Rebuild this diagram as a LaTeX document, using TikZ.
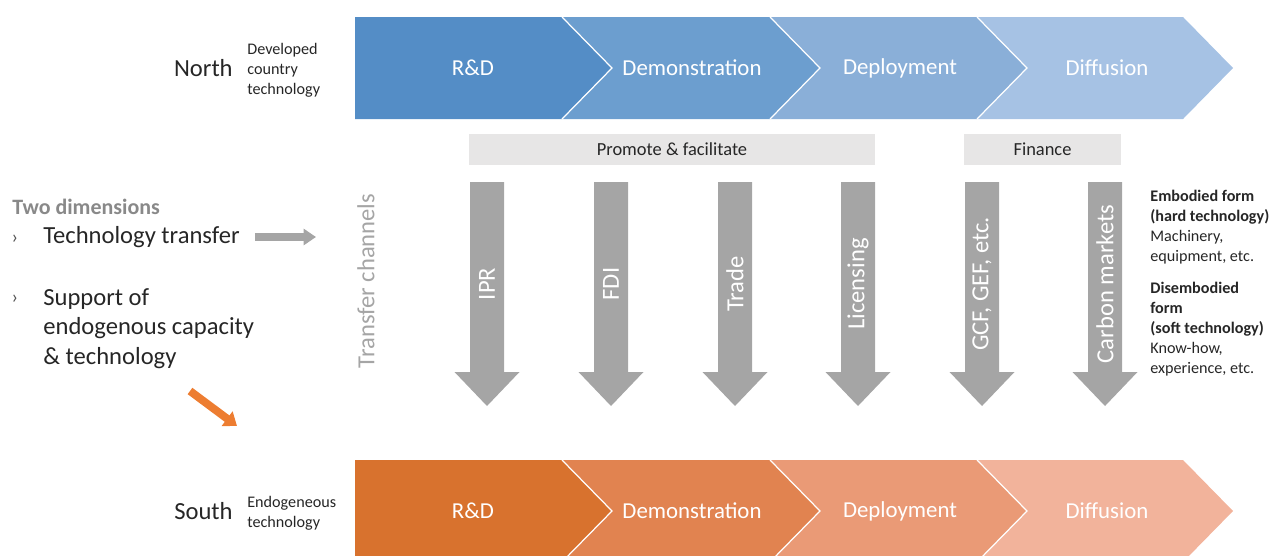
\documentclass[tikz,border=0pt]{standalone}
\usepackage{fontspec}
\setmainfont{Carlito}
\definecolor{NorthA}{RGB}{84,141,198}
\definecolor{NorthB}{RGB}{108,158,207}
\definecolor{NorthC}{RGB}{138,175,216}
\definecolor{NorthD}{RGB}{166,194,228}
\definecolor{SouthA}{RGB}{216,114,46}
\definecolor{SouthB}{RGB}{225,131,80}
\definecolor{SouthC}{RGB}{234,154,118}
\definecolor{SouthD}{RGB}{242,179,155}
\definecolor{ChanGray}{RGB}{165,165,165}
\definecolor{BoxGray}{RGB}{231,230,230}
\definecolor{TitleGray}{RGB}{137,137,137}
\definecolor{TextDark}{RGB}{38,38,38}
\definecolor{OrangeArr}{RGB}{237,125,49}
\usepackage{tikz}
\usetikzlibrary{arrows.meta, positioning}

\begin{document}
\begin{tikzpicture}[x=0.02cm, y=-0.02cm,
  stage/.style={text=white, inner sep=0pt, font=\fontsize{13}{15}\selectfont},
  chan/.style={text=white, rotate=90, inner sep=0pt, font=\fontsize{14}{16}\selectfont},
  tagbox/.style={fill=BoxGray, minimum height=0.62cm, inner sep=0pt,
                 text=TextDark, font=\fontsize{10.5}{12}\selectfont},
  region/.style={text=TextDark, inner sep=0pt, font=\fontsize{14}{16}\selectfont},
  regdesc/.style={text=TextDark, inner sep=0pt, align=left,
                  font=\fontsize{9.2}{11.3}\selectfont},
  formtext/.style={text=TextDark, inner sep=0pt, align=left,
                   font=\fontsize{9.2}{11.3}\selectfont},
  dimtext/.style={text=TextDark, inner sep=0pt, align=left,
                  font=\fontsize{14}{16.6}\selectfont},
  bullet/.style={text=TextDark!80, inner sep=0pt, font=\fontsize{11}{12}\selectfont}]
  \clip (0,0) rectangle (1274,555);

  % process chevrons, north on top and south at the bottom
  \foreach \row/\yt/\yb in {North/17/119, South/460/562}{
    \pgfmathsetmacro\ym{(\yt+\yb)/2}
    \foreach \xl/\xr/\xt/\c/\stg [count=\i] in
      {355/562/473/A/R\&D, 562/770/692/B/Demonstration,
       770/977/900/C/Deployment, 977/1183/1107/D/Diffusion}{
      \ifnum\i=1
        \fill[\row\c] (\xl,\yt) -- (\xr,\yt) -- (\xr+50,\ym) -- (\xr,\yb)
          -- (\xl,\yb) -- cycle;
      \else
        \fill[\row\c] (\xl,\yt) -- (\xr,\yt) -- (\xr+50,\ym) -- (\xr,\yb)
          -- (\xl,\yb) -- (\xl+50,\ym) -- cycle;
        \draw[white, line width=0.7pt] (\xl,\yt) -- (\xl+50,\ym) -- (\xl,\yb);
      \fi
      \node[stage] (\row-\i) at (\xt,\ym) {\stg};
    }
  }

  \node[region, anchor=east] (north) at (233,68) {North};
  \node[regdesc, right=0.28cm of north, yshift=-0.04cm] (northdesc)
    {Developed\\country\\technology};
  \node[region, anchor=east] (south) at (233,511) {South};
  \node[regdesc, right=0.28cm of south, yshift=-0.04cm] (southdesc)
    {Endogeneous\\technology};

  % channel groups
  \node[tagbox, minimum width=8.12cm] (promote) at (672,149.5) {Promote \& facilitate};
  \node[tagbox, minimum width=3.14cm] (finance) at (1042.5,149.5) {Finance};

  \node[chan, text=ChanGray] (chanlabel) at (366,281) {Transfer channels};

  \foreach \xc/\lbl [count=\i] in {487/IPR, 611/FDI, 735/Trade, 858/Licensing,
                                   982/{GCF, GEF, etc.}, 1105/Carbon markets}{
    \fill[ChanGray] (\xc-17,182) -- (\xc+17,182) -- (\xc+17,372) -- (\xc+32.5,372)
      -- (\xc,406) -- (\xc-32.5,372) -- (\xc-17,372) -- cycle;
    \node[chan] (ch\i) at (\xc,284) {\lbl};
  }

  % the two dimensions
  \node[anchor=west, inner sep=0pt, text=TitleGray,
        font=\fontsize{12.5}{15}\bfseries] (dims) at (12,207) {Two dimensions};
  \node[bullet] (b1) at (15,239) {›};
  \node[bullet] (b2) at (15,299) {›};
  \node[dimtext, anchor=west] (transfer) at (43,237) {Technology transfer};
  \node[dimtext, anchor=north west] (support) at (43,288.5)
    {Support of\\endogenous capacity\\\& technology};
  \coordinate (transferend) at (316,237);
  \draw[ChanGray, line width=4pt, -{Triangle[length=7pt, width=9pt]}]
    ([xshift=0.3cm]transfer.east) -- (transferend);
  \coordinate (endostart) at (190,391);
  \coordinate (endoend) at (237,426);
  \draw[OrangeArr, line width=4.5pt, -{Triangle[length=7pt, width=10pt]}]
    (endostart) -- (endoend);

  % forms of technology
  \node[formtext, anchor=north west] (embodied) at (1150,190)
    {\textbf{Embodied form}\\\textbf{(hard technology)}\\Machinery,\\equipment, etc.};
  \node[formtext, anchor=north west] (disembodied) at (1150,282)
    {\textbf{Disembodied}\\\textbf{form}\\\textbf{(soft technology)}\\Know-how,\\experience, etc.};
\end{tikzpicture}
\end{document}
